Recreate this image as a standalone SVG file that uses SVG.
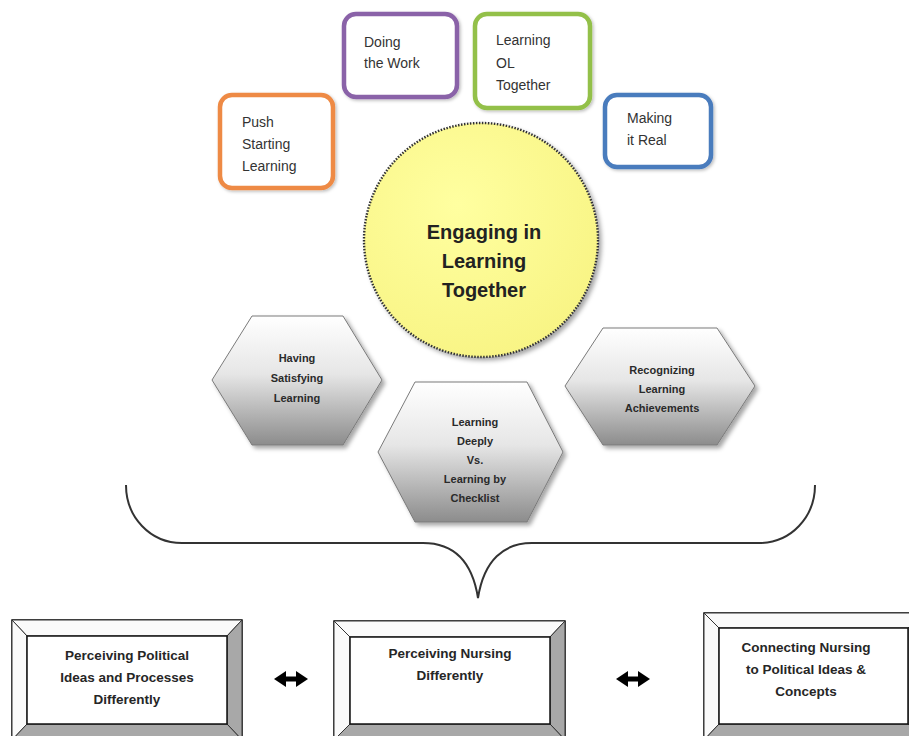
<svg xmlns="http://www.w3.org/2000/svg" width="909" height="736" viewBox="0 0 909 736">
<defs>
<linearGradient id="hexg" x1="0" y1="0" x2="0" y2="1">
<stop offset="0" stop-color="#ffffff"/>
<stop offset="0.45" stop-color="#e6e6e6"/>
<stop offset="1" stop-color="#8c8c8c"/>
</linearGradient>
<radialGradient id="circg" cx="0.4" cy="0.35" r="0.7">
<stop offset="0" stop-color="#ffffa0"/>
<stop offset="1" stop-color="#f8f484"/>
</radialGradient>
<filter id="sh" x="-10%" y="-10%" width="130%" height="130%">
<feDropShadow dx="3" dy="3" stdDeviation="2" flood-color="#000" flood-opacity="0.35"/>
</filter>
<filter id="sh2" x="-10%" y="-10%" width="130%" height="130%">
<feDropShadow dx="1.5" dy="1.5" stdDeviation="1.5" flood-color="#000" flood-opacity="0.25"/>
</filter>
<path id="dblarrow" d="M0,0 L12,-8 L12,-2.5 L22,-2.5 L22,-8 L34,0 L22,8 L22,2.5 L12,2.5 L12,8 Z"/>
</defs>
<style>
.tb{fill:#fff;stroke-width:4.5;filter:url(#sh2)}
.tt{font-family:"Liberation Sans",Arial,sans-serif;font-size:14px;fill:#333}
.hex{fill:url(#hexg);stroke:#7a7a7a;stroke-width:1;filter:url(#sh)}
.ht{font-family:"Liberation Sans",Arial,sans-serif;font-size:11px;font-weight:bold;fill:#2a2a2a;text-anchor:middle}
.bt{font-family:"Liberation Sans",Arial,sans-serif;font-size:13.5px;font-weight:bold;fill:#262626;text-anchor:middle}
.ct{font-family:"Liberation Sans",Arial,sans-serif;font-size:20px;font-weight:bold;fill:#222;text-anchor:middle}
.outer{fill:#fff;stroke:#111;stroke-width:1.5}
.inner{fill:#fff;stroke:#111;stroke-width:1.5}
.bl{fill:#fafafa;stroke:#333;stroke-width:1}
.bd{fill:#a8a8a8;stroke:#333;stroke-width:1}
.conn{fill:none;stroke:#333;stroke-width:2}
.arr{fill:#000}
</style>

<g id="push-starting">
<rect class="tb" x="220" y="95" width="113" height="93" rx="12" stroke="#ee8a45"/>
<text class="tt" x="242" y="127">Push</text>
<text class="tt" x="242" y="149">Starting</text>
<text class="tt" x="242" y="171">Learning</text>
</g>
<g id="doing-work">
<rect class="tb" x="344" y="14" width="113" height="83" rx="12" stroke="#8a62a8"/>
<text class="tt" x="364" y="47">Doing</text>
<text class="tt" x="364" y="68">the Work</text>
</g>
<g id="learning-ol">
<rect class="tb" x="475" y="14" width="115" height="94" rx="12" stroke="#93c048"/>
<text class="tt" x="496" y="45">Learning</text>
<text class="tt" x="496" y="68">OL</text>
<text class="tt" x="496" y="90">Together</text>
</g>
<g id="making-real">
<rect class="tb" x="605" y="95" width="106" height="72" rx="12" stroke="#4a7bbd"/>
<text class="tt" x="627" y="123">Making</text>
<text class="tt" x="627" y="145">it Real</text>
</g>

<g id="engaging">
<circle cx="481" cy="240" r="117" fill="url(#circg)" stroke="#333" stroke-width="2.4" stroke-dasharray="1.5 1.5" filter="url(#sh)"/>
<text class="ct" x="484" y="239">Engaging in</text>
<text class="ct" x="484" y="268">Learning</text>
<text class="ct" x="484" y="297">Together</text>
</g>

<g id="having-satisfying">
<polygon class="hex" points="212,380 252,316 343,316 382,380 343,445 252,445"/>
<text class="ht" x="297" y="362">Having</text>
<text class="ht" x="297" y="382">Satisfying</text>
<text class="ht" x="297" y="402">Learning</text>
</g>
<g id="learning-deeply">
<polygon class="hex" points="378,452 415,382 527,382 563,452 527,522 415,522"/>
<text class="ht" x="475" y="426">Learning</text>
<text class="ht" x="475" y="445">Deeply</text>
<text class="ht" x="475" y="464">Vs.</text>
<text class="ht" x="475" y="483">Learning by</text>
<text class="ht" x="475" y="502">Checklist</text>
</g>
<g id="recognizing">
<polygon class="hex" points="565,386 603,328 717,328 755,386 717,445 603,445"/>
<text class="ht" x="662" y="374">Recognizing</text>
<text class="ht" x="662" y="393">Learning</text>
<text class="ht" x="662" y="412">Achievements</text>
</g>

<g id="connectors">
<path class="conn" d="M126,485 C126,517 150,543 182,543 L423,543 C452,543 472,560 478,598 C484,560 504,543 532,543 L759,543 C791,543 815,517 815,485"/>
<use class="arr" href="#dblarrow" x="274" y="679"/>
<use class="arr" href="#dblarrow" x="616" y="679"/>
</g>

<g id="perceiving-political">
<rect class="outer" x="12" y="620" width="230" height="130"/>
<polygon class="bl" points="12,620 242,620 227,636 27,636"/>
<polygon class="bl" points="12,620 27,636 27,724 12,740"/>
<polygon class="bd" points="242,620 242,740 227,724 227,636"/>
<polygon class="bd" points="12,740 27,724 227,724 242,740"/>
<rect class="inner" x="27" y="636" width="200" height="88"/>
<text class="bt" x="127" y="660">Perceiving Political</text>
<text class="bt" x="127" y="682">Ideas and Processes</text>
<text class="bt" x="127" y="704">Differently</text>
</g>
<g id="perceiving-nursing">
<rect class="outer" x="334" y="621" width="231" height="130"/>
<polygon class="bl" points="334,621 565,621 550,637 350,637"/>
<polygon class="bl" points="334,621 350,637 350,724 334,740"/>
<polygon class="bd" points="565,621 565,740 550,724 550,637"/>
<polygon class="bd" points="334,740 350,724 550,724 565,740"/>
<rect class="inner" x="350" y="637" width="200" height="87"/>
<text class="bt" x="450" y="658">Perceiving Nursing</text>
<text class="bt" x="450" y="680">Differently</text>
</g>
<g id="connecting-nursing">
<rect class="outer" x="704" y="613" width="222" height="140"/>
<polygon class="bl" points="704,613 926,613 908,628 719,628"/>
<polygon class="bl" points="704,613 719,628 719,724 704,740"/>
<polygon class="bd" points="926,613 926,740 908,724 908,628"/>
<polygon class="bd" points="704,740 719,724 908,724 926,740"/>
<rect class="inner" x="719" y="628" width="189" height="96"/>
<text class="bt" x="806" y="652">Connecting Nursing</text>
<text class="bt" x="806" y="674">to Political Ideas &amp;</text>
<text class="bt" x="806" y="696">Concepts</text>
</g>
</svg>
